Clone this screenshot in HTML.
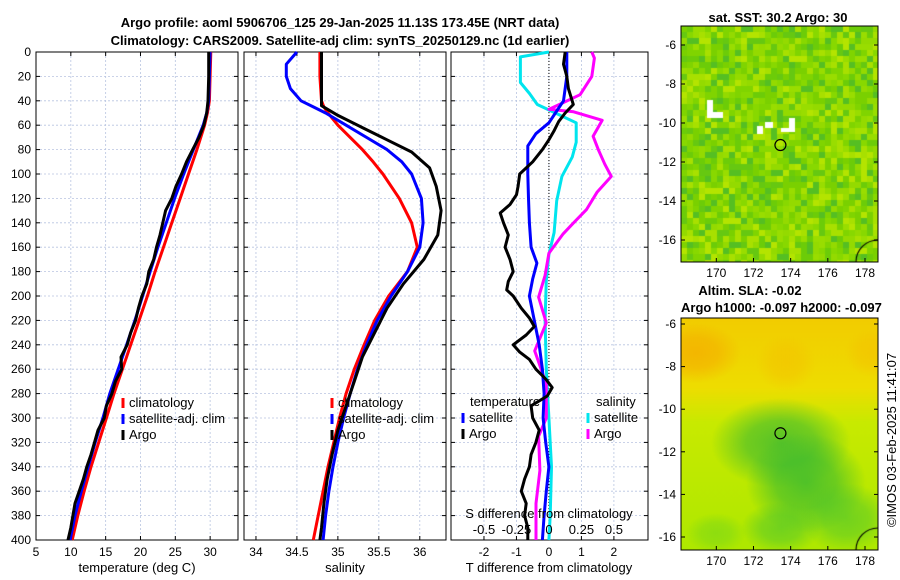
<!DOCTYPE html>
<html><head><meta charset="utf-8">
<style>
body{margin:0;background:#fff;width:900px;height:580px;overflow:hidden;font-family:"Liberation Sans",sans-serif}
#wrap{position:relative;width:900px;height:580px}
svg{position:absolute;left:0;top:0}
canvas{position:absolute}
</style></head><body>
<div id="wrap">
<canvas id="sst" width="197" height="236" style="left:681px;top:26px"></canvas>
<canvas id="sla" width="197" height="232" style="left:681px;top:318px"></canvas>
<svg id="chart" width="900" height="580"></svg>
</div>
<script>
// ---------- data ----------
const depthTicks=[0,20,40,60,80,100,120,140,160,180,200,220,240,260,280,300,320,340,360,380,400];
const tempTicks=[5,10,15,20,25,30];
const salTicks=[34,34.5,35,35.5,36];
const tdiffTicks=[-2,-1,0,1,2];
const sdiffTicks=[-0.5,-0.25,0,0.25,0.5];
const lonTicks=[170,172,174,176,178];
const latTicks=[-6,-8,-10,-12,-14,-16];

const tDepth=[0,20,40,50,60,80,100,120,140,160,180,200,220,240,260,280,300,320,340,360,380,400];
const tClim=[30.1,30.0,29.9,29.6,29.2,28.1,26.9,25.7,24.5,23.3,22.1,21.0,19.8,18.6,17.4,16.2,15.1,14.0,12.9,11.9,11.0,10.2];
const tSat=[30.0,29.9,29.8,29.5,29.0,27.6,26.2,24.9,23.7,22.5,21.4,20.3,19.2,18.0,16.8,15.6,14.6,13.5,12.5,11.5,10.6,9.9];
const argoTDepth=[0,20,40,50,60,70,80,90,100,110,120,130,140,150,160,170,180,190,200,210,220,230,240,250,260,270,280,290,300,310,320,330,340,350,360,370,380,390,400];
const argoT=[29.8,29.8,29.7,29.5,29.1,28.4,27.5,26.6,25.9,25.1,24.5,23.6,23.2,22.8,22.3,21.9,21.2,20.9,20.2,19.7,19.3,18.6,18.1,17.2,17.3,16.4,15.9,15.1,14.8,13.9,13.4,12.9,12.3,11.8,11.2,10.6,10.3,10.0,9.6];

const sDepth=[0,10,20,30,40,45,50,60,70,80,90,100,120,140,160,180,200,220,240,260,280,300,320,340,360,380,400];
const sClim=[34.78,34.78,34.78,34.79,34.8,34.83,34.88,35.0,35.15,35.3,35.43,35.55,35.75,35.9,35.97,35.85,35.62,35.45,35.32,35.2,35.1,35.02,34.95,34.88,34.82,34.76,34.7];
const sSat=[34.5,34.37,34.37,34.42,34.55,34.7,34.85,35.1,35.35,35.6,35.78,35.9,36.02,36.04,36.0,35.85,35.65,35.48,35.35,35.24,35.15,35.07,35.0,34.94,34.89,34.85,34.82];
const argoSDepth=[0,20,44,52,62,72,82,95,110,130,150,170,190,210,230,250,270,290,310,330,350,370,390,400];
const argoS=[34.8,34.8,34.8,35.0,35.3,35.6,35.9,36.12,36.2,36.26,36.22,36.05,35.8,35.6,35.45,35.3,35.2,35.1,35.0,34.93,34.87,34.83,34.8,34.78];

const dDepth=[0,20,40,50,58,67,77,90,100,120,140,160,173,186,200,220,240,260,280,300,320,340,360,380,400];
const dTSat=[0.55,0.55,0.45,0.2,0,-0.4,-0.65,-0.65,-0.65,-0.63,-0.6,-0.55,-0.37,-0.5,-0.6,-0.45,-0.3,-0.2,-0.15,-0.18,-0.1,0.0,-0.08,-0.15,-0.2];
const dTArgoDepth=[0,10,20,30,43,50,57,65,72,80,90,100,110,117,125,132,140,150,160,170,180,188,195,200,210,218,225,232,240,246,252,260,268,275,282,290,300,310,320,330,340,350,360,370,380,390,400];
const dTArgo=[0.5,0.45,0.55,0.6,0.75,0.5,0.3,0.15,0.0,-0.2,-0.5,-0.9,-0.95,-1.0,-1.2,-1.5,-1.4,-1.25,-1.35,-1.2,-1.1,-1.25,-1.3,-1.1,-0.85,-0.6,-0.45,-0.7,-1.1,-0.9,-0.6,-0.4,-0.1,0.1,-0.05,-0.55,-0.5,-0.3,-0.4,-0.55,-0.6,-0.75,-0.85,-0.7,-0.75,-0.65,-0.65];
const dSDepth=[0,4,25,34,43,50,58,74,86,102,122,148,166,187,220,260,300,340,380,400];
const dSSat=[0.0,-0.22,-0.22,-0.15,-0.09,0.05,0.21,0.21,0.18,0.1,0.06,0.04,0.0,-0.02,-0.03,-0.02,0.0,0.02,0.01,0.0];
const dSArgoDepth=[0,5,20,35,43,47,49,56,69,80,92,102,115,129,140,149,165,183,201,222,245,272,300,315,343,370,397,400];
const dSArgo=[0.33,0.35,0.33,0.24,0.08,0.0,0.19,0.41,0.34,0.38,0.43,0.48,0.37,0.29,0.19,0.11,0.0,-0.03,-0.08,-0.02,-0.11,-0.02,-0.02,-0.08,-0.07,-0.1,-0.1,-0.1];

// ---------- helpers ----------
const svg=document.getElementById('chart');
const NS='http://www.w3.org/2000/svg';
function mk(tag,attrs,parent){const e=document.createElementNS(NS,tag);for(const k in attrs)e.setAttribute(k,attrs[k]);(parent||svg).appendChild(e);return e;}
function txt(x,y,s,opts){const e=mk('text',Object.assign({x:x,y:y,'font-size':12,'font-family':'"Liberation Sans",sans-serif',fill:'#000'},opts||{}));e.textContent=s;return e;}
const Y0=52,Y1=540;
function yD(d){return Y0+(d/400)*(Y1-Y0);}
function scale(d0,d1,r0,r1){return v=>r0+(v-d0)/(d1-d0)*(r1-r0);}

function panel(x0,x1,xs,ticks,xfmt,name){
  const g=mk('g',{});
  
  
  depthTicks.forEach(d=>{const l=mk('line',{x1:x0,x2:x1,y1:yD(d),y2:yD(d),stroke:'#b8c4e0','stroke-width':0.8,'stroke-dasharray':'2,2'},g);
    });
  ticks.forEach(t=>{const X=xs(t);const l=mk('line',{x1:X,x2:X,y1:Y0,y2:Y1,stroke:'#b8c4e0','stroke-width':0.8,'stroke-dasharray':'2,2'},g);
    
    if(xfmt){const t2=txt(X,556,xfmt(t),{'text-anchor':'middle'});}
    mk('line',{x1:X,x2:X,y1:Y1,y2:Y1-4,stroke:'#000'},g);mk('line',{x1:X,x2:X,y1:Y0,y2:Y0+4,stroke:'#000'},g);});
  depthTicks.forEach(d=>{mk('line',{x1:x0,x2:x0+4,y1:yD(d),y2:yD(d),stroke:'#000'},g);mk('line',{x1:x1,x2:x1-4,y1:yD(d),y2:yD(d),stroke:'#000'},g);});
  const r=mk('rect',{x:x0,y:Y0,width:x1-x0,height:Y1-Y0,fill:'none',stroke:'#000','stroke-width':1},g);
  
  return g;
}
function line(xs,vals,depths,color,w,name){
  const pts=vals.map((v,i)=>xs(v).toFixed(1)+','+yD(depths[i]).toFixed(1)).join(' ');
  const p=mk('polyline',{points:pts,fill:'none',stroke:color,'stroke-width':w,'stroke-linejoin':'round'});
  
  return p;
}
function legend(x,y,color,label,name){
  const m=mk('line',{x1:x,x2:x,y1:y-9,y2:y+1,stroke:color,'stroke-width':3});
  
  const t=txt(x+6,y,label,{'font-size':13});
  
}

// titles
let t=txt(340,27,'Argo profile: aoml 5906706_125 29-Jan-2025 11.13S 173.45E (NRT data)',{'font-size':13,'font-weight':'bold','text-anchor':'middle'});

t=txt(340,45,'Climatology: CARS2009. Satellite-adj clim: synTS_20250129.nc (1d earlier)',{'font-size':13,'font-weight':'bold','text-anchor':'middle'});


// depth labels (panel 1)
depthTicks.forEach(d=>{const e=txt(31,yD(d)+4,String(d),{'text-anchor':'end'});});

// panel 1 temperature
const xT=scale(5,34,36,238);
panel(36,238,xT,tempTicks,v=>String(v),'temperature-panel');
line(xT,tClim,tDepth,'#ff0000',3,'temp-climatology-line');
line(xT,tSat,tDepth,'#0000ff',3,'temp-satellite-line');
line(xT,argoT,argoTDepth,'#000000',3,'temp-argo-line');
t=txt(137,572,'temperature (deg C)',{'font-size':13,'text-anchor':'middle'});
legend(123,407,'#ff0000','climatology','legend-climatology');
legend(123,423,'#0000ff','satellite-adj. clim','legend-satellite');
legend(123,439,'#000000','Argo','legend-argo');

// panel 2 salinity
const xS=scale(33.854,36.32,244,446);
panel(244,446,xS,salTicks,v=>String(v),'salinity-panel');
line(xS,sClim,sDepth,'#ff0000',3,'sal-climatology-line');
line(xS,sSat,sDepth,'#0000ff',3,'sal-satellite-line');
line(xS,argoS,argoSDepth,'#000000',3,'sal-argo-line');
t=txt(345,572,'salinity',{'font-size':13,'text-anchor':'middle'});
legend(332,407,'#ff0000','climatology','legend-sal-climatology');
legend(332,423,'#0000ff','satellite-adj. clim','legend-sal-satellite');
legend(332,439,'#000000','Argo','legend-sal-argo');

// panel 3 differences
const xDT=scale(-3.015,3.05,451,648);
const xDS=scale(-0.754,0.7625,451,648);
panel(451,648,xDT,tdiffTicks,v=>String(v),'difference-panel');
let z=mk('line',{x1:xDT(0),x2:xDT(0),y1:Y0,y2:Y1,stroke:'#000','stroke-width':1,'stroke-dasharray':'1,2'});

line(xDS,dSSat,dSDepth,'#00e5ee',3,'sdiff-satellite-line');
line(xDS,dSArgo,dSArgoDepth,'#ff00ff',3,'sdiff-argo-line');
line(xDT,dTSat,dDepth,'#0000ff',3,'tdiff-satellite-line');
line(xDT,dTArgo,dTArgoDepth,'#000000',3,'tdiff-argo-line');
sdiffTicks.forEach(v=>{const e=txt(xDS(v),534,String(v),{'text-anchor':'middle','font-size':13});});
t=txt(549,518,'S difference from climatology',{'font-size':13,'text-anchor':'middle'});
t=txt(549,572,'T difference from climatology',{'font-size':13,'text-anchor':'middle'});
t=txt(470,406,'temperature',{'font-size':13});
t=txt(596,406,'salinity',{'font-size':13});
legend(463,422,'#0000ff','satellite','legend-tdiff-satellite');
legend(463,438,'#000000','Argo','legend-tdiff-argo');
legend(588,422,'#00e5ee','satellite','legend-sdiff-satellite');
legend(588,438,'#ff00ff','Argo','legend-sdiff-argo');

// ---------- maps ----------
const lonX=scale(168.1,178.7,681,878);
function mapAxes(top,bot,latY,nm){
  const g=mk('g',{});
  mk('rect',{x:681,y:top,width:197,height:bot-top,fill:'none',stroke:'#000'},g);
  lonTicks.forEach(l=>{const X=lonX(l);mk('line',{x1:X,x2:X,y1:bot,y2:bot-4,stroke:'#000'},g);
    const e=txt(X,bot+15,String(l),{'text-anchor':'middle'});});
  latTicks.forEach(l=>{const Y=latY(l);mk('line',{x1:681,x2:685,y1:Y,y2:Y,stroke:'#000'},g);mk('line',{x1:878,x2:874,y1:Y,y2:Y,stroke:'#000'},g);
    const e=txt(676,Y+4,String(l),{'text-anchor':'end'});});
  const c=mk('circle',{cx:lonX(173.45),cy:latY(-11.13),r:5.5,fill:'none',stroke:'#000','stroke-width':1.2},g);
  
}
const latY1=scale(-6,-16,45,240);
const latY2=scale(-6,-16,324,537);
mapAxes(26,262,latY1,'sst-map');
mapAxes(318,550,latY2,'sla-map');
t=txt(778,22,'sat. SST: 30.2 Argo: 30',{'font-size':13,'font-weight':'bold','text-anchor':'middle'});
t=txt(750,295,'Altim. SLA: -0.02',{'font-size':13,'font-weight':'bold','text-anchor':'middle'});
t=txt(681,312,'Argo h1000: -0.097 h2000: -0.097',{'font-size':13,'font-weight':'bold'});
t=txt(0,0,'©IMOS 03-Feb-2025 11:41:07',{'font-size':13,'text-anchor':'middle',transform:'translate(896,440) rotate(-90)'});

// SST texture (imagery, seeded)
let seed=7;function rnd(){seed=(seed*16807)%2147483647;return seed/2147483647;}
const c1=document.getElementById('sst').getContext('2d');
const cols=['#7ad000','#88d800','#99dd00','#66c811','#a8e000','#b4e400','#55bf22','#80d400','#94da00','#6ccc08'];
for(let y=0;y<236;y+=6)for(let x=0;x<197;x+=6){c1.fillStyle=cols[Math.floor(rnd()*cols.length)];c1.fillRect(x,y,6,6);}
c1.fillStyle='#fff';c1.fillRect(26,74,6,18);c1.fillRect(32,86,10,6);c1.fillRect(76,100,6,8);c1.fillRect(84,96,8,6);c1.fillRect(108,92,6,14);c1.fillRect(100,102,12,4);
c1.strokeStyle='#000';c1.lineWidth=1.2;c1.beginPath();c1.arc(197,236,22,Math.PI,1.5*Math.PI);c1.stroke();
// SLA smooth
const c2=document.getElementById('sla').getContext('2d');
let g=c2.createLinearGradient(0,0,0,232);g.addColorStop(0,'#f2cc00');g.addColorStop(0.3,'#eedd00');g.addColorStop(0.45,'#c8ea00');g.addColorStop(1,'#aee800');
c2.fillStyle=g;c2.fillRect(0,0,197,232);
function blob(x,y,rx,ry,r,gg,b,a){c2.save();c2.translate(x,y);c2.scale(1,ry/rx);const rg=c2.createRadialGradient(0,0,0,0,0,rx);
  rg.addColorStop(0,`rgba(${r},${gg},${b},${a})`);rg.addColorStop(0.5,`rgba(${r},${gg},${b},${a*0.75})`);rg.addColorStop(1,`rgba(${r},${gg},${b},0)`);
  c2.fillStyle=rg;c2.fillRect(-rx,-rx,2*rx,2*rx);c2.restore();}
blob(15,35,45,30,245,170,0,0.7);blob(105,45,30,28,245,190,0,0.5);blob(190,35,26,24,245,190,0,0.5);
blob(100,125,70,45,60,185,50,0.8);blob(125,165,60,50,55,185,50,0.8);blob(165,200,45,35,70,195,50,0.6);
blob(100,210,40,26,70,195,50,0.6);blob(35,215,30,20,90,205,40,0.4);
c2.strokeStyle='#000';c2.lineWidth=1.2;c2.beginPath();c2.arc(197,232,22,Math.PI,1.5*Math.PI);c2.stroke();
</script>
</body></html>
